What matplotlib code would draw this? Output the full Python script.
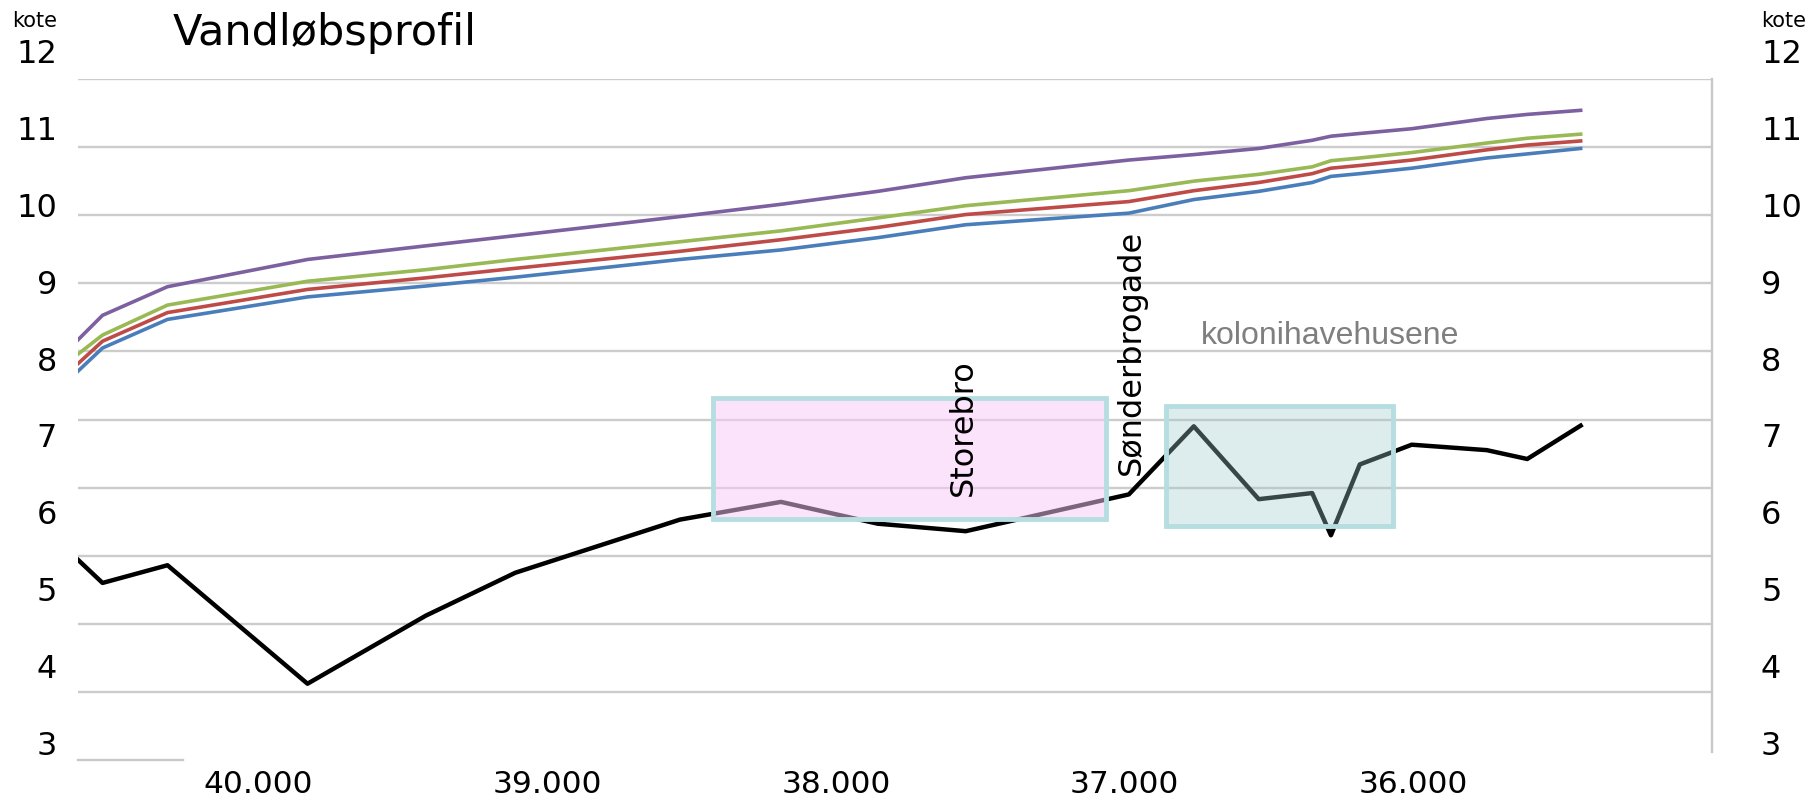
import matplotlib
matplotlib.use("Agg")
import matplotlib.pyplot as plt
from matplotlib.patches import Rectangle
from matplotlib.ticker import FuncFormatter

# stationering (m) og koter
station = [40625, 40540, 40315, 39830, 39420, 39110, 38540, 38190, 37855, 37550,
           36985, 36760, 36535, 36350, 36285, 36185, 36005, 35745, 35605, 35420]
bund = [4.94, 4.60, 4.86, 3.12, 4.12, 4.75, 5.53, 5.79, 5.47, 5.36,
        5.90, 6.90, 5.83, 5.92, 5.30, 6.34, 6.63, 6.55, 6.42, 6.91]
vsp_blaa = [7.71, 8.05, 8.47, 8.80, 8.96, 9.09, 9.35, 9.49, 9.67, 9.86,
            10.03, 10.23, 10.35, 10.48, 10.57, 10.61, 10.69, 10.84, 10.90, 10.98]
vsp_roed = [7.82, 8.15, 8.57, 8.91, 9.08, 9.22, 9.47, 9.64, 9.82, 10.01,
            10.20, 10.36, 10.48, 10.61, 10.69, 10.73, 10.81, 10.96, 11.03, 11.09]
vsp_groen = [7.96, 8.24, 8.68, 9.03, 9.20, 9.35, 9.61, 9.77, 9.96, 10.14,
             10.36, 10.50, 10.60, 10.71, 10.80, 10.84, 10.92, 11.06, 11.13, 11.19]
vsp_lilla = [8.17, 8.53, 8.95, 9.35, 9.55, 9.70, 9.98, 10.16, 10.35, 10.55,
             10.81, 10.89, 10.98, 11.10, 11.16, 11.20, 11.27, 11.42, 11.48, 11.54]

x_ticks = [40000, 39000, 38000, 37000, 36000]
kote_labels = [3, 4, 5, 6, 7, 8, 9, 10, 11, 12]

# markerede strækninger (station fra/til, kote fra/til)
storebro_box = (38424, 37063, 5.54, 7.32)
koloni_box = (36856, 36070, 5.44, 7.20)

W, H = 1812, 799
fig = plt.figure(figsize=(W / 100, H / 100), dpi=100)

ax = fig.add_axes([78 / W, 1 - 760 / H, (1712 - 78) / W, (760 - 79) / H])
ax.set_xlim(40625, 34965)
ax.set_ylim(2, 12)
ax.set_yticks(range(3, 13))
ax.set_yticklabels([])
ax.grid(axis="y", color="#cccccc", lw=1.7)
ax.set_axisbelow(True)
ax.set_xticks(x_ticks)
ax.xaxis.set_major_formatter(FuncFormatter(lambda v, p: f"{int(v) // 1000}.{int(v) % 1000:03d}"))
ax.tick_params(axis="x", length=0, pad=7, labelsize=22.5)
ax.tick_params(axis="y", length=0)
for s in ["left", "top"]:
    ax.spines[s].set_visible(False)
ax.spines["right"].set_color("#c8c8c8")
ax.spines["right"].set_linewidth(1.7)
ax.spines["right"].set_bounds(2.12, 12)
ax.spines["bottom"].set_color("#c8c8c8")
ax.spines["bottom"].set_linewidth(1.7)
ax.spines["bottom"].set_bounds(40625, 40260)

ax.plot(station, vsp_blaa, color="#4a7ebb", lw=2.6)
ax.plot(station, vsp_roed, color="#be4b48", lw=2.6)
ax.plot(station, vsp_groen, color="#98b954", lw=2.6)
ax.plot(station, vsp_lilla, color="#7d60a0", lw=2.6)
ax.plot(station, bund, color="black", lw=3.2)

for (x0, x1, y0, y1), fc, a in [(storebro_box, "#fbc8fb", 0.5), (koloni_box, "#9fc9c9", 0.35)]:
    ax.add_patch(Rectangle((x0, y0), x1 - x0, y1 - y0, facecolor=fc, alpha=a,
                           edgecolor="none", zorder=4))
    ax.add_patch(Rectangle((x0, y0), x1 - x0, y1 - y0, facecolor="none",
                           edgecolor="#b6dee1", lw=3.5, zorder=5))

ax.text(37559, 6.88, "Storebro", rotation=90, ha="center", va="center",
        fontsize=23, zorder=6)
ax.text(36977, 7.98, "Sønderbrogade", rotation=90, ha="center", va="center",
        fontsize=23, zorder=6)
ax.text(36288, 8.11, "kolonihavehusene", ha="center", va="baseline",
        fontsize=23, color="#7f7f7f", family="Liberation Sans", zorder=6)

# kote-akse tekster i begge sider
lab = fig.add_axes([57 / W, 1 - 743 / H, (1761 - 57) / W, (743 - 51) / H])
lab.set_ylim(3, 12)
lab.set_yticks(kote_labels)
lab.set_yticklabels([str(k) for k in kote_labels])
lab.set_xticks([])
lab.set_frame_on(False)
lab.patch.set_alpha(0)
lab.tick_params(axis="y", length=0, pad=0, labelsize=23, labelleft=True, labelright=True)

fig.text(57 / W, 1 - 27 / H, "kote", ha="right", va="baseline", fontsize=15)
fig.text(1761 / W, 1 - 27 / H, "kote", ha="left", va="baseline", fontsize=15)
fig.text(173 / W, 1 - 45 / H, "Vandløbsprofil", ha="left", va="baseline", fontsize=31)

fig.savefig("out.png", dpi=100)
